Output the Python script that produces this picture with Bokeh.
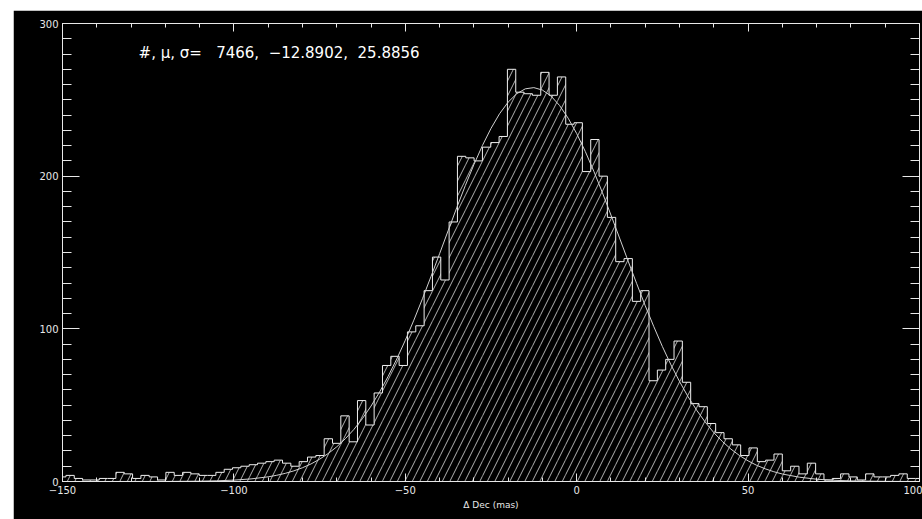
import numpy as np
from bokeh.plotting import figure
from bokeh.models import Range1d, LinearAxis, SingleIntervalTicker, Label, CustomJSTickFormatter
from bokeh.embed import file_html
from bokeh.resources import INLINE

# ---- data ----
BIN_START = -151.43
BIN_WIDTH = 2.43
counts = [3, 4, 2, 1, 1, 2, 2, 6, 5, 2, 4, 3, 1, 6, 4, 6, 5, 4, 4, 6,
          8, 9, 10, 11, 12, 13, 14, 12, 10, 13, 16, 17, 28, 25, 43, 26, 53, 37, 58, 76,
          82, 76, 98, 102, 125, 147, 132, 170, 213, 212, 210, 219, 222, 226, 270, 255, 254, 253, 268, 253,
          265, 234, 235, 203, 224, 200, 173, 144, 146, 118, 125, 66, 73, 80, 92, 65, 51, 49, 38, 32,
          28, 24, 17, 22, 13, 14, 18, 7, 10, 5, 12, 5, 1, 2, 5, 3, 1, 5, 3, 3,
          4, 5, 2, 2]

curve_x = [-150, -120, -110, -105, -100, -95, -90, -87.5, -85, -82.5, -80, -77.5, -75, -72.5, -70,
           -67.5, -65, -62.5, -60, -57.5, -55, -52.5, -50, -47.5, -45, -42.5, -40, -37.5, -35,
           -32.5, -30, -27.5, -25, -22.5, -20, -17.5, -15, -12.5, -10, -7.5, -5, -2.5, 0, 2.5,
           5, 7.5, 10, 12.5, 15, 17.5, 20, 22.5, 25, 27.5, 30, 32.5, 35, 37.5, 40, 42.5, 45,
           47.5, 50, 52.5, 55, 57.5, 60, 65, 70, 75, 80, 90, 100]
curve_y = [0.0, 0.05, 0.22, 0.46, 0.9, 1.7, 3.07, 4.08, 5.35, 6.97, 9.0, 11.5, 14.6, 18.3, 22.7,
           28.0, 34.1, 41.2, 49.4, 58.6, 68.9, 80.2, 92.5, 105.7, 119.7, 134.3, 149.2, 164.3, 179.3,
           193.8, 207.5, 220.1, 231.3, 240.9, 248.5, 254.0, 257.2, 258.0, 256.4, 252.5, 246.3, 238.0, 227.9, 216.2,
           203.2, 189.2, 174.5, 159.5, 144.4, 129.6, 115.1, 101.4, 88.4, 76.4, 65.5, 55.5, 46.7, 38.9, 32.0, 26.2, 21.2,
           17.0, 13.5, 10.6, 8.3, 6.4, 4.9, 2.8, 1.5, 0.8, 0.4, 0.1, 0.0]

x_label_overrides = {-150: "\u2212150", -100: "\u2212100", -50: "\u221250", 0: "0", 50: "50", 100: "100"}
NB = "\u00a0"
annotation = ("#," + NB + "\u03bc," + NB + "\u03c3=" + NB * 3 + "7466," + NB * 2
              + "\u221212.8902," + NB * 2 + "25.8856")
x_title = "\u0394 Dec (mas)"

# ---- derived geometry ----
counts_a = np.array(counts, dtype=float)
edges = BIN_START + BIN_WIDTH * np.arange(len(counts_a) + 1)
sx = np.concatenate([[edges[0]], np.repeat(edges, 2)[1:-1], [edges[-1]]])
sy = np.concatenate([[0], np.repeat(counts_a, 2), [0]])

FG = "#e8e8e8"
p = figure(width=909, height=509, x_range=Range1d(-150, 100), y_range=Range1d(0, 300),
           output_backend="svg", toolbar_location=None,
           background_fill_color="black", border_fill_color="black",
           min_border_left=49, min_border_right=3, min_border_top=13, min_border_bottom=38,
           outline_line_color=FG, margin=(10, 0, 0, 13))
p.grid.visible = False

# hatched histogram body
p.quad(left=edges[:-1], right=edges[1:], bottom=0, top=counts_a,
       fill_color=None, line_color=None,
       hatch_pattern="/", hatch_color="#b0b0b0", hatch_scale=15, hatch_weight=1)
# outline
p.line(sx, sy, line_color="#f0f0f0", line_width=1)
# fitted curve
p.line(curve_x, curve_y, line_color="#d0d0d0", line_width=1)

empty = CustomJSTickFormatter(code="return ''")

def style_axis(ax, major_in, minor_in, labels=True):
    ax.axis_line_color = FG
    ax.major_tick_line_color = FG
    ax.minor_tick_line_color = FG
    ax.major_tick_in = major_in
    ax.major_tick_out = 0
    ax.minor_tick_in = minor_in
    ax.minor_tick_out = 0
    ax.major_label_text_color = FG
    ax.major_label_text_font = "DejaVu Sans"
    ax.major_label_text_font_size = "10px"
    if not labels:
        ax.formatter = empty
        ax.major_label_standoff = 0
        ax.major_label_text_font_size = "0px"

xt = SingleIntervalTicker(interval=50, num_minor_ticks=5)
yt = SingleIntervalTicker(interval=100, num_minor_ticks=10)

p.xaxis.ticker = xt
p.yaxis.ticker = yt
xa = p.xaxis[0]
ya = p.yaxis[0]
style_axis(xa, 8, 4)
style_axis(ya, 17, 9)
xa.major_label_overrides = x_label_overrides
xa.major_label_standoff = 4
ya.major_label_standoff = 4
xa.axis_label = x_title
xa.axis_label_text_font = "DejaVu Sans"
xa.axis_label_text_font_size = "9px"
xa.axis_label_text_font_style = "normal"
xa.axis_label_text_color = FG
xa.axis_label_standoff = 3

top = LinearAxis(ticker=SingleIntervalTicker(interval=50, num_minor_ticks=5))
style_axis(top, 8, 4, labels=False)
p.add_layout(top, "above")
right = LinearAxis(ticker=SingleIntervalTicker(interval=100, num_minor_ticks=10))
style_axis(right, 17, 9, labels=False)
p.add_layout(right, "right")

p.add_layout(Label(x=-127.8, y=280.5, text=annotation, text_color="white",
                   text_font="DejaVu Sans", text_font_size="15px",
                   text_baseline="alphabetic"))

open("out.html", "w").write(file_html(p, INLINE))
